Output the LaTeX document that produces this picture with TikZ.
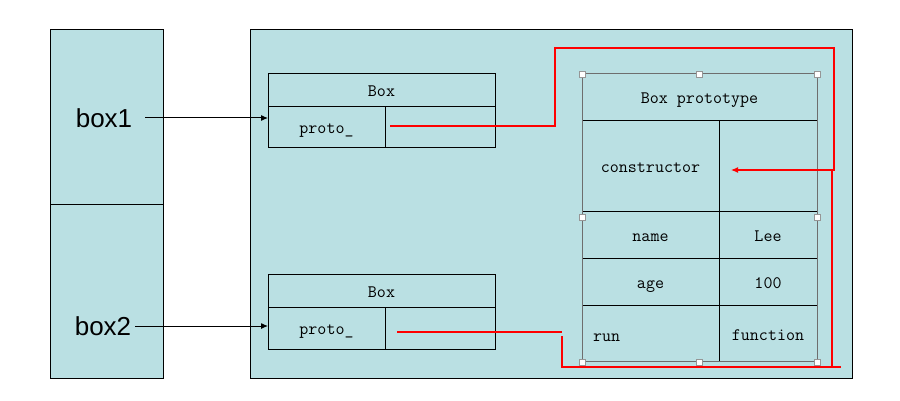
\documentclass[tikz,border=0pt]{standalone}
\usepackage{fontspec}
\setmainfont{Liberation Sans}
\usetikzlibrary{arrows.meta,positioning}
\definecolor{heapbg}{RGB}{186,224,227}
\definecolor{frameg}{RGB}{110,110,110}
\definecolor{handleg}{RGB}{150,150,150}
\definecolor{linkred}{RGB}{255,0,0}

\tikzset{
  cell/.style={draw, line width=1pt, inner sep=0pt, outer sep=0pt,
    text height=13pt, text depth=0pt,
    font=\ttfamily\fontsize{17.5}{17.5}\selectfont},
  varname/.style={inner sep=0pt, font=\fontsize{26}{26}\selectfont},
  ptr/.style={line width=1pt, -{Latex[length=7pt,width=6pt]}},
  redptr/.style={draw=linkred, line width=1.2pt},
  handle/.style={draw=handleg, fill=white, line width=0.8pt,
    minimum size=6pt, inner sep=0pt}
}

\begin{document}
\begin{tikzpicture}[x=1pt,y=-1pt]
\useasboundingbox (0,0) rectangle (900,401);
% Stack
\node[cell, fill=heapbg, minimum width=113, minimum height=174] (slot1) at (106.5,117) {};
\node[cell, fill=heapbg, minimum width=113, minimum height=174] (slot2) at (106.5,291) {};
\node[varname] (box1) at (104,118) {box1};
\node[varname] (box2) at (103,326) {box2};
% Heap
\node[cell, fill=heapbg, minimum width=602, minimum height=348] (heap) at (551,204) {};
% first Box object
\node[cell, minimum width=227, minimum height=33] (b1h) at (381.5,90.5) {Box};
\node[cell, minimum width=117, minimum height=41] (b1p) at (326.5,127.5) {proto\_};
\node[cell, minimum width=110, minimum height=41] (b1v) at (440,127.5) {};
% second Box object
\node[cell, minimum width=227, minimum height=33] (b2h) at (381.5,290.5) {Box};
\node[cell, minimum width=117, minimum height=42] (b2p) at (326.5,328) {proto\_};
\node[cell, minimum width=110, minimum height=42] (b2v) at (440,328) {};
% Box prototype
\node[cell, minimum width=235, minimum height=47] (ph) at (699.5,97.5) {Box prototype};
\node[cell, minimum width=137, minimum height=90] (ck) at (650.5,166) {constructor};
\node[cell, minimum width=98, minimum height=90] (cv) at (768,166) {};
\node[cell, minimum width=137, minimum height=47] (nk) at (650.5,234.5) {name};
\node[cell, minimum width=98, minimum height=47] (nv) at (768,234.5) {Lee};
\node[cell, minimum width=137, minimum height=47] (ak) at (650.5,281.5) {age};
\node[cell, minimum width=98, minimum height=47] (av) at (768,281.5) {100};
\node[cell, minimum width=137, minimum height=56] (rk) at (650.5,333.5) {};
\node[cell, minimum width=98, minimum height=56] (rv) at (768,333.5) {function};
\node[inner sep=0pt, anchor=base west, font=\ttfamily\fontsize{17.5}{17.5}\selectfont] (rtxt) at (593,341) {run};
\draw[frameg, line width=1pt] (ph.north west) rectangle (rv.south east);
% selection handles
\foreach \hx/\hy in {582/74,699/74,817/74,582/217,817/217,582/362,699/362,817/362}
  \node[handle] at (\hx,\hy) {};
% pointers from the stack
\draw[ptr] ([xshift=13pt]box1.east) -- (b1p.west |- box1.east);
\draw[ptr] ([xshift=4pt]box2.east) -- (b2p.west |- box2.east);
% proto_ links
\coordinate (ctip) at (731,170);
\coordinate (s1) at (390,126);
\coordinate (s2) at (397,332);
\draw[redptr, -{Latex[length=7pt,width=6pt]}] (s1) -| (555,48) -| (834,170) -- (ctip);
\draw[redptr] (s2) -- (562,332) (562,336) |- (841,367) (832,367) -- (832,170);
\end{tikzpicture}
\end{document}
